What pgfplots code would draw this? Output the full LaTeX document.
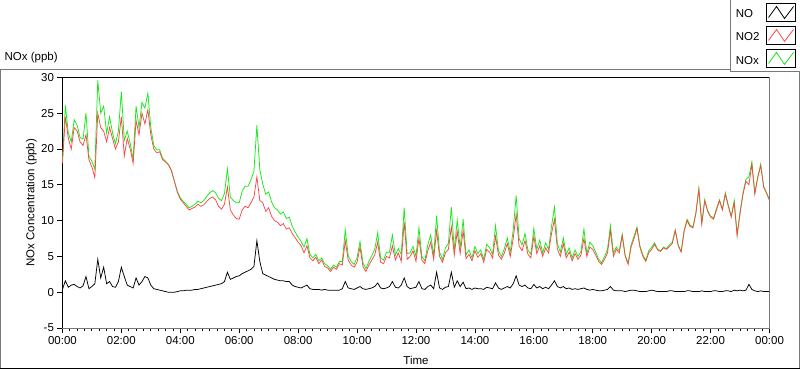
\documentclass[border=0pt]{standalone}
\usepackage{pgfplots}
\pgfplotsset{compat=1.18}
\usepackage{pgfplotstable}
\usepackage{fontspec}
\setmainfont{Liberation Sans}
\definecolor{nored}{RGB}{255,70,70}
\definecolor{nogreen}{RGB}{20,235,20}
\definecolor{framegray}{RGB}{120,120,120}

\pgfplotstableread{
t no no2 nox
0.0 0.4 18.0 18.4
0.1 1.6 24.5 26.1
0.2 0.7 21.5 22.2
0.3 1.0 20.0 21.0
0.4 1.1 23.0 24.1
0.5 0.8 22.5 23.3
0.6 0.6 21.0 21.6
0.7 0.9 20.5 21.4
0.8 2.2 22.0 25.0
0.9 0.5 18.5 19.0
1.0 0.8 17.5 18.3
1.1 1.2 16.0 17.2
1.2 4.6 25.0 29.6
1.3 2.0 23.0 25.0
1.4 3.5 22.5 26.0
1.5 1.2 21.0 22.2
1.6 1.5 23.0 24.5
1.7 0.8 21.5 22.3
1.8 0.7 20.0 20.7
1.9 1.5 21.0 22.5
2.0 3.5 24.5 28.0
2.1 2.2 19.0 21.2
2.2 1.0 21.5 22.5
2.3 0.8 20.0 20.8
2.4 0.6 18.0 18.6
2.5 2.0 24.0 26.0
2.6 1.0 22.0 23.0
2.7 1.5 25.0 26.5
2.8 2.2 23.5 25.7
2.9 2.0 25.5 27.8
3.0 1.0 22.0 23.0
3.1 0.5 20.0 20.5
3.2 0.4 19.5 19.9
3.3 0.3 19.6 19.9
3.4 0.2 18.5 18.7
3.5 0.1 18.2 18.3
3.6 0.0 17.8 17.8
3.7 0.0 17.0 17.0
3.8 0.0 15.5 15.5
3.9 0.1 14.0 14.1
4.0 0.2 13.0 13.2
4.1 0.2 12.5 12.7
4.2 0.3 12.0 12.3
4.3 0.3 11.5 11.8
4.4 0.3 11.7 12.0
4.5 0.4 11.9 12.3
4.6 0.4 12.3 12.7
4.7 0.5 12.0 12.5
4.8 0.6 12.2 12.8
4.9 0.7 12.7 13.4
5.0 0.8 13.1 13.9
5.1 0.9 13.3 14.2
5.2 1.0 12.9 13.9
5.3 1.1 12.0 13.1
5.4 1.2 11.6 12.8
5.5 1.5 12.3 13.8
5.6 2.8 14.7 17.2
5.7 1.8 11.5 13.3
5.8 2.0 10.8 12.8
5.9 2.2 10.3 12.5
6.0 2.3 10.2 12.5
6.1 2.6 11.5 14.1
6.2 2.8 12.0 14.8
6.3 3.0 11.8 14.8
6.4 3.2 12.5 15.7
6.5 3.6 13.3 16.9
6.6 7.2 16.1 23.3
6.7 4.3 12.8 17.1
6.8 2.6 12.5 15.1
6.9 2.4 11.3 13.7
7.0 2.2 11.8 14.0
7.1 2.0 10.6 12.6
7.2 1.8 10.0 11.8
7.3 1.7 9.8 11.5
7.4 1.6 9.3 10.9
7.5 1.6 9.6 11.2
7.6 1.5 8.8 10.3
7.7 1.5 9.0 10.5
7.8 1.0 8.2 9.2
7.9 0.8 7.6 8.4
8.0 0.7 7.0 7.7
8.1 0.6 6.5 7.1
8.2 0.8 5.5 6.3
8.3 1.0 6.5 7.5
8.4 0.5 4.8 5.3
8.5 0.4 4.4 4.8
8.6 0.4 4.9 5.3
8.7 0.4 4.0 4.4
8.8 0.3 4.5 4.8
8.9 0.4 3.6 4.0
9.0 0.3 3.4 3.7
9.1 0.3 2.9 3.2
9.2 0.3 3.5 3.8
9.3 0.3 3.2 3.5
9.4 0.3 4.0 4.3
9.5 0.5 3.8 4.3
9.6 1.5 7.2 8.7
9.7 0.6 4.5 5.1
9.8 0.5 3.8 4.3
9.9 0.4 3.5 3.9
10.0 0.6 4.2 4.8
10.1 0.8 6.3 7.1
10.2 0.5 3.6 4.1
10.3 0.4 2.9 3.3
10.4 0.5 3.8 4.3
10.5 0.6 4.5 5.1
10.6 0.8 5.2 6.0
10.7 1.3 7.0 8.3
10.8 0.6 4.2 4.8
10.9 0.5 4.0 4.5
11.0 0.6 5.0 5.6
11.1 0.8 4.8 5.6
11.2 1.5 6.5 8.0
11.3 0.7 4.5 5.2
11.4 0.6 5.5 6.1
11.5 1.0 4.3 5.3
11.6 2.0 9.8 11.8
11.7 0.8 4.6 5.4
11.8 0.5 5.0 5.5
11.9 0.6 5.8 6.4
12.0 0.7 4.3 5.0
12.1 1.5 7.5 9.0
12.2 0.5 4.5 5.0
12.3 0.4 4.0 4.4
12.4 0.8 5.8 6.6
12.5 1.0 7.0 8.0
12.6 0.5 4.6 5.1
12.7 2.8 8.6 10.7
12.8 0.6 5.0 5.6
12.9 0.4 4.2 4.6
13.0 0.7 5.5 6.2
13.1 0.8 6.0 6.8
13.2 2.8 9.1 11.9
13.3 0.7 5.2 5.9
13.4 1.6 8.5 10.1
13.5 0.8 5.4 6.2
13.6 1.4 8.6 10.2
13.7 0.5 4.7 5.2
13.8 0.6 5.3 5.9
13.9 0.4 4.4 4.8
14.0 0.6 5.8 6.4
14.1 0.5 4.9 5.4
14.2 0.5 5.4 5.9
14.3 0.4 4.2 4.6
14.4 0.7 6.0 6.7
14.5 0.6 5.6 6.2
14.6 0.5 4.8 5.3
14.7 1.3 7.8 9.3
14.8 0.6 5.2 5.8
14.9 0.4 4.6 5.0
15.0 0.6 5.5 6.1
15.1 0.8 6.8 7.6
15.2 0.6 5.0 5.6
15.3 1.2 7.5 8.7
15.4 2.3 10.9 13.5
15.5 1.0 6.5 7.5
15.6 0.8 5.8 6.6
15.7 1.0 7.2 8.2
15.8 0.6 5.3 5.9
15.9 0.5 4.8 5.3
16.0 1.1 7.8 8.9
16.1 0.6 5.4 6.0
16.2 0.8 6.5 7.3
16.3 0.5 5.0 5.5
16.4 0.7 6.2 6.9
16.5 0.5 5.5 6.0
16.6 1.0 8.2 9.2
16.7 1.6 10.2 11.9
16.8 0.8 6.0 6.8
16.9 0.6 5.0 5.6
17.0 0.8 6.8 7.6
17.1 0.5 4.8 5.3
17.2 0.6 5.6 6.2
17.3 0.4 4.4 4.8
17.4 0.5 5.4 5.9
17.5 0.4 4.6 5.0
17.6 0.5 5.2 5.7
17.7 0.6 7.5 8.8
17.8 0.4 5.0 5.4
17.9 0.3 6.3 7.0
18.0 0.4 6.0 6.5
18.1 0.3 5.2 5.6
18.2 0.2 4.3 4.6
18.3 0.2 3.9 4.1
18.4 0.3 4.6 5.0
18.5 0.4 5.5 6.0
18.6 0.8 8.6 9.3
18.7 0.3 5.0 5.5
18.8 0.2 6.0 6.3
18.9 0.2 5.5 5.8
19.0 0.2 7.9 8.1
19.1 0.1 5.0 5.2
19.2 0.2 3.9 4.1
19.3 0.3 6.3 6.6
19.4 0.3 7.5 7.8
19.5 0.2 8.9 9.1
19.6 0.1 6.3 6.5
19.7 0.1 5.0 5.2
19.8 0.1 4.3 4.5
19.9 0.2 5.5 5.8
20.0 0.3 6.0 6.3
20.1 0.2 6.7 6.9
20.2 0.1 5.9 6.0
20.3 0.1 5.7 5.8
20.4 0.1 6.2 6.3
20.5 0.1 6.0 6.1
20.6 0.2 6.4 6.6
20.7 0.2 6.8 7.0
20.8 0.1 8.6 8.7
20.9 0.1 6.5 6.6
21.0 0.1 5.6 5.7
21.1 0.1 8.5 8.6
21.2 0.2 10.0 10.2
21.3 0.2 9.2 9.4
21.4 0.1 9.0 9.1
21.5 0.1 11.0 11.1
21.6 0.1 14.4 14.5
21.7 0.2 9.5 9.7
21.8 0.1 12.8 12.9
21.9 0.1 11.3 11.4
22.0 0.1 10.5 10.6
22.1 0.2 10.2 10.4
22.2 0.2 11.5 11.7
22.3 0.1 12.8 12.9
22.4 0.1 11.5 11.6
22.5 0.2 13.7 13.9
22.6 0.2 12.0 12.2
22.7 0.1 10.5 10.6
22.8 0.3 12.5 12.8
22.9 0.2 7.9 8.1
23.0 0.3 11.0 11.3
23.1 0.2 13.7 13.9
23.2 0.3 15.5 15.8
23.3 1.1 15.0 16.1
23.4 0.4 17.9 18.2
23.5 0.2 13.7 13.9
23.6 0.1 16.0 16.1
23.7 0.2 17.7 17.9
23.8 0.1 14.7 14.8
23.9 0.1 13.8 13.9
24.0 0.1 12.8 12.9
}\datatable

\begin{document}
\begin{tikzpicture}
\fill[white] (0pt,0pt) rectangle (800pt,369pt);
% outer graph frame
\draw[framegray, line width=1pt] (0.5pt,0.5pt) rectangle (799.5pt,299.5pt);
\draw[black, line width=1pt] (0pt,0.5pt) -- (800pt,0.5pt);
% title
\node[anchor=west, inner sep=0pt, font=\fontsize{11.5}{13}\selectfont] at (4pt,312pt) {NOx (ppb)};
\begin{axis}[
  at={(62pt,41pt)}, anchor=south west,
  scale only axis, width=708pt, height=251pt,
  xmin=0, xmax=24, ymin=-5, ymax=30,
  clip=false,
  axis line style={black, line width=1pt},
  tick pos=left,
  tick align=outside,
  major tick length=5pt, minor tick length=3pt,
  every tick/.style={black, line width=0.8pt},
  xtick={0,2,4,6,8,10,12,14,16,18,20,22,24},
  xticklabels={00:00,02:00,04:00,06:00,08:00,10:00,12:00,14:00,16:00,18:00,20:00,22:00,00:00},
  minor x tick num=7,
  ytick={-5,0,5,10,15,20,25,30},
  yticklabels={-5,0,5,10,15,20,25,30},
  tick label style={font=\fontsize{11.5}{13}\selectfont},
  xlabel={Time},
  ylabel={NOx Concentration (ppb)},
  label style={font=\fontsize{11.5}{13}\selectfont},
  xlabel style={at={(axis description cs:0.5,-0.127)}, anchor=center},
  ylabel style={at={(axis description cs:-0.044,0.5)}, anchor=center},
]
\addplot[nogreen, line width=0.75pt] table[x=t, y=nox] {\datatable};
\addplot[nored, line width=0.75pt] table[x=t, y=no2] {\datatable};
\addplot[black, line width=0.75pt] table[x=t, y=no] {\datatable};
\draw[framegray, line width=1pt] (rel axis cs:1,1) -- (rel axis cs:1,0) -- (rel axis cs:0,0);
\end{axis}
% legend box
\fill[white] (730.5pt,297pt) rectangle (800pt,369pt);
\draw[framegray, line width=1pt] (730.5pt,369pt) -- (730.5pt,297.5pt) -- (800pt,297.5pt);
\begin{scope}[font=\fontsize{11.5}{13}\selectfont]
\node[anchor=west, inner sep=0pt] at (736pt,356pt) {NO};
\node[anchor=west, inner sep=0pt] at (736pt,333pt) {NO2};
\node[anchor=west, inner sep=0pt] at (736pt,309pt) {NOx};
\end{scope}
\foreach \yb/\col in {348/black, 325/nored, 302/nogreen} {
  \draw[black, line width=0.8pt, fill=white] (767pt,\yb pt) rectangle (796pt,\yb pt+18pt);
  \draw[\col, line width=0.8pt] (769pt,\yb pt+4pt) -- (777pt,\yb pt+15pt) -- (785pt,\yb pt+3pt) -- (794pt,\yb pt+15pt);
}
\end{tikzpicture}
\end{document}
